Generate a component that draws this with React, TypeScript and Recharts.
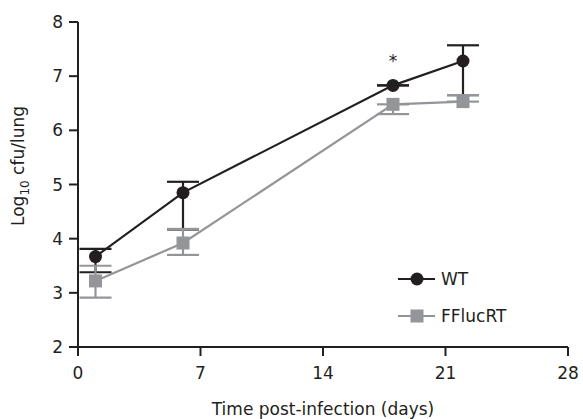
import React from "react";
import {
	LineChart,
	Line,
	XAxis,
	YAxis,
	ErrorBar,
	LabelList
} from "recharts";

const days = [1, 6, 18, 22];
const wtMean = [3.67, 4.85, 6.83, 7.28];
const wtLow = [0.29, 0.68, 0, 0.63];
const wtHigh = [0.14, 0.2, 0, 0.29];
const ffMean = [3.22, 3.92, 6.48, 6.53];
const ffLow = [0.31, 0.22, 0.18, 0];
const ffHigh = [0.28, 0.26, 0, 0.12];
const signif = ["", "", "*", ""];
const xTicks = [0, 7, 14, 21, 28];
const yTicks = [2, 3, 4, 5, 6, 7, 8];
const seriesNames = ["WT", "FFlucRT"];

const data = days.map((d, i) => ({
	day: d,
	wt: wtMean[i],
	wtErr: [wtLow[i], wtHigh[i]],
	ff: ffMean[i],
	ffErr: [ffLow[i], ffHigh[i]],
	sig: signif[i]
}));

const BLACK = "#231f20";
const GREY = "#939598";
const FONT = "'DejaVu Sans', sans-serif";

const SquareDot = (props: any) => {
	const { cx, cy } = props;
	if (cx == null || cy == null) return null;
	return <rect x={cx - 6.5} y={cy - 6.5} width={13} height={13} fill={GREY} />;
};

const YLabel = () => (
	<text
		transform="translate(24,166) rotate(-90)"
		textAnchor="middle"
		fontSize={17}
		fill={BLACK}
		fontFamily={FONT}
	>
		Log<tspan fontSize={12} dy={5}>10</tspan>
		<tspan dy={-5}> cfu/lung</tspan>
	</text>
);

// legend drawn as overlay so it doesn't eat plot space
const ChartLegend = () => (
	<div
		style={{
			position: "absolute",
			left: 398,
			top: 260,
			fontFamily: FONT,
			fontSize: 17,
			color: BLACK
		}}
	>
		{seriesNames.map((name, i) => {
			const color = i === 0 ? BLACK : GREY;
			return (
				<div key={name} style={{ display: "flex", alignItems: "center", height: 37 }}>
					<svg width={38} height={20}>
						<line x1={0} y1={10} x2={37} y2={10} stroke={color} strokeWidth={2.2} />
						{i === 0 ? (
							<circle cx={19} cy={10} r={6.5} fill={color} />
						) : (
							<rect x={12.5} y={3.5} width={13} height={13} fill={color} />
						)}
					</svg>
					<span style={{ marginLeft: 5 }}>{name}</span>
				</div>
			);
		})}
	</div>
);

const App = () => {
	return (
		<div style={{ position: "absolute", left: 0, top: 0 }}>
			<LineChart
				width={583}
				height={419}
				data={data}
				margin={{ top: 22, right: 15, bottom: 0, left: 0 }}
				style={{ fontFamily: FONT }}
			>
				<XAxis
					dataKey="day"
					type="number"
					domain={[0, 28]}
					ticks={xTicks}
					height={72}
					tickSize={9}
					tickMargin={11}
					stroke={BLACK}
					strokeWidth={2}
					tick={{ fill: BLACK, fontSize: 17 }}
					label={{
						value: "Time post-infection (days)",
						position: "insideBottom",
						offset: 4,
						fill: BLACK,
						fontSize: 17
					}}
				/>
				<YAxis
					type="number"
					domain={[2, 8]}
					ticks={yTicks}
					width={78}
					tickSize={9}
					tickMargin={6}
					stroke={BLACK}
					strokeWidth={2}
					tick={{ fill: BLACK, fontSize: 17 }}
					label={<YLabel />}
				/>
				{/* lines + error bars first, markers drawn afterwards so they cover the caps */}
				<Line
					dataKey="wt"
					name="WT"
					stroke={BLACK}
					strokeWidth={2.2}
					dot={false}
					isAnimationActive={false}
				>
					<ErrorBar dataKey="wtErr" direction="y" width={16} stroke={BLACK} strokeWidth={2.2} />
					<LabelList dataKey="sig" position="top" offset={18} fill={BLACK} fontSize={17} />
				</Line>
				<Line
					dataKey="wt"
					stroke="none"
					dot={{ r: 6.5, fill: BLACK, stroke: "none" }}
					legendType="none"
					isAnimationActive={false}
				/>
				<Line
					dataKey="ff"
					name="FFlucRT"
					stroke={GREY}
					strokeWidth={2.2}
					dot={false}
					isAnimationActive={false}
				>
					<ErrorBar dataKey="ffErr" direction="y" width={16} stroke={GREY} strokeWidth={2.2} />
				</Line>
				<Line
					dataKey="ff"
					stroke="none"
					dot={<SquareDot />}
					legendType="none"
					isAnimationActive={false}
				/>
			</LineChart>
			<ChartLegend />
		</div>
	);
};

export default App;
